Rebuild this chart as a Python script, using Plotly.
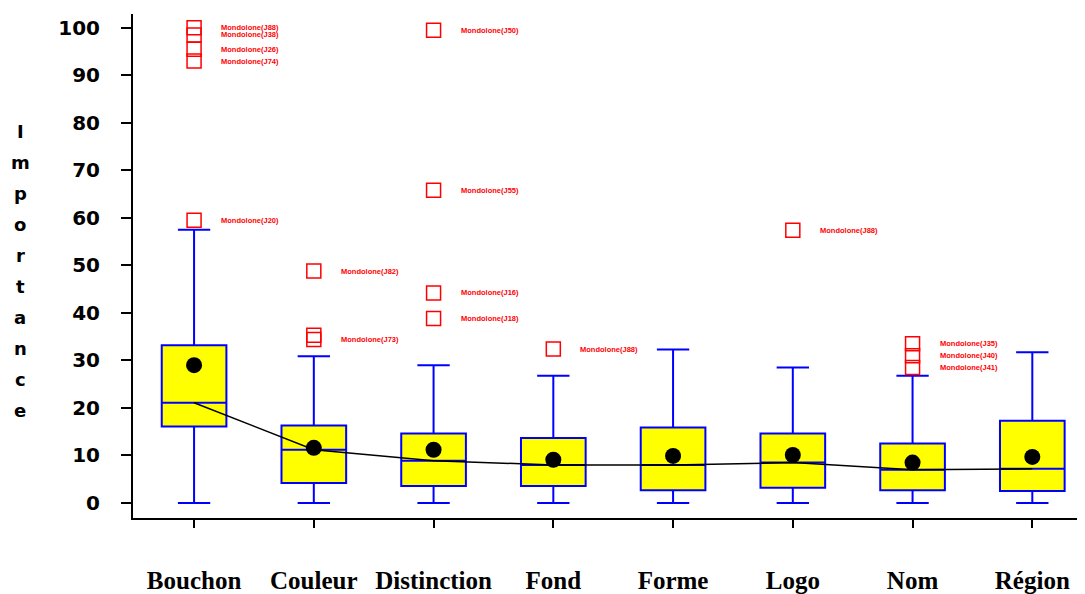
import plotly.graph_objects as go

categories = ["Bouchon", "Couleur", "Distinction", "Fond", "Forme", "Logo", "Nom", "Région"]
q1 = [16.1, 4.2, 3.6, 3.6, 2.7, 3.2, 2.7, 2.5]
median = [21.1, 11.2, 8.9, 8.0, 8.0, 8.5, 7.0, 7.2]
q3 = [33.2, 16.3, 14.6, 13.7, 15.9, 14.6, 12.5, 17.3]
lower_whisker = [0, 0, 0, 0, 0, 0, 0, 0]
upper_whisker = [57.5, 30.9, 29.0, 26.8, 32.3, 28.5, 26.8, 31.7]
mean = [29.0, 11.6, 11.2, 9.1, 9.9, 10.1, 8.5, 9.7]

outlier_cat = [0, 0, 0, 0, 0, 1, 1, 1, 2, 2, 2, 2, 3, 5, 6, 6, 6]
outlier_val = [100, 98.5, 95.5, 93, 59.5, 48.8, 35.3, 34.4, 99.5, 65.8, 44.2, 38.8, 32.4, 57.4, 33.5, 31.0, 28.5]
outlier_lbl = ["Mondolone(J88)", "Mondolone(J38)", "Mondolone(J26)", "Mondolone(J74)", "Mondolone(J20)",
               "Mondolone(J82)", "", "Mondolone(J73)",
               "Mondolone(J50)", "Mondolone(J55)", "Mondolone(J16)", "Mondolone(J18)",
               "Mondolone(J88)", "Mondolone(J88)",
               "Mondolone(J35)", "Mondolone(J40)", "Mondolone(J41)"]

y_ticks = list(range(0, 101, 10))
y_title = "Importance"

pos = list(range(len(categories)))

fig = go.Figure()
fig.add_trace(go.Box(
    x=pos, q1=q1, median=median, q3=q3,
    lowerfence=lower_whisker, upperfence=upper_whisker,
    width=0.54, whiskerwidth=0.5,
    fillcolor="#FFFF00", line=dict(color="#0000FF", width=2),
    boxpoints=False, showlegend=False, hoverinfo="skip",
))
fig.add_trace(go.Scatter(
    x=pos, y=median, mode="lines",
    line=dict(color="black", width=1.5), showlegend=False,
))
fig.add_trace(go.Scatter(
    x=pos, y=mean, mode="markers",
    marker=dict(color="black", size=16, symbol="circle"), showlegend=False,
))
fig.add_trace(go.Scatter(
    x=outlier_cat, y=outlier_val, mode="markers",
    marker=dict(symbol="square-open", size=14, color="#FF0000", line=dict(width=1.5, color="#FF0000")),
    showlegend=False,
))

annotations = []
for c, v, t in zip(outlier_cat, outlier_val, outlier_lbl):
    if t:
        annotations.append(dict(x=c, y=v, xref="x", yref="y", text=t, showarrow=False,
                                xanchor="left", yanchor="middle", xshift=25,
                                font=dict(family="Liberation Sans", size=7.5, color="#FF0000", weight="bold")))

# page offset of the figure (body margin) is 8 px
plot_top, plot_bottom = 14, 518
for i, ch in enumerate(y_title):
    ypx = 132 + 30.9 * i
    annotations.append(dict(x=(20 - 133) / (1085 - 133), y=(plot_bottom - ypx) / (plot_bottom - plot_top),
                            xref="paper", yref="paper", text=ch, showarrow=False,
                            xanchor="center", yanchor="middle",
                            font=dict(family="DejaVu Sans", size=18, color="black", weight="bold")))

fig.update_layout(
    width=1077, height=586,
    margin=dict(l=125, r=0, t=6, b=76),
    plot_bgcolor="white", paper_bgcolor="white",
    annotations=annotations,
    xaxis=dict(range=[-0.51, 7.44], tickvals=pos, ticktext=categories, automargin=False,
               showline=True, linecolor="black", linewidth=2,
               ticks="outside", ticklen=8, tickwidth=2, tickcolor="black",
               showgrid=False, zeroline=False, ticklabelstandoff=31,
               tickfont=dict(family="Liberation Serif", size=25, color="black", weight="bold")),
    yaxis=dict(range=[-3.16, 102.9], tickvals=y_ticks, automargin=False,
               showline=True, linecolor="black", linewidth=2,
               ticks="outside", ticklen=10, tickwidth=2, tickcolor="black",
               showgrid=False, zeroline=False, ticklabelstandoff=17,
               tickfont=dict(family="DejaVu Sans", size=20, color="black", weight="bold")),
)

fig.write_html("out.html")
